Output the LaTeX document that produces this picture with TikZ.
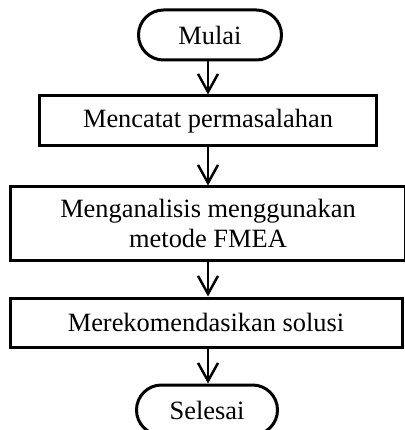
\documentclass[tikz,border=0pt]{standalone}
\usepackage{fontspec}
\setmainfont{Liberation Serif}
\usetikzlibrary{arrows.meta,shapes.misc}
\begin{document}
\begin{tikzpicture}[x=1pt,y=-1pt,
  font=\fontsize{26.4}{30}\selectfont,
  terminal/.style={draw,line width=3pt,rounded rectangle,minimum width=143pt,minimum height=50pt,inner sep=0pt},
  prosesbox/.style={draw,line width=3pt,rectangle,minimum height=50pt,inner sep=0pt,align=center},
  panah/.style={-{Straight Barb[length=18pt,width=20pt,line width=2.5pt]},line width=2.5pt}]
\useasboundingbox (0,0) rectangle (404,430);

\node [terminal] (mulai) at (210,35) {Mulai};
\node [prosesbox,minimum width=337pt] (catat) at (208,121) {Mencatat permasalahan};
\node [prosesbox,minimum width=395pt,minimum height=73pt] (analisis) at (208,223.5) {Menganalisis menggunakan\\metode FMEA};
\node [prosesbox,minimum width=392pt,minimum height=49pt] (solusi) at (206,322.5) {Merekomendasikan solusi};
\node [terminal,minimum width=141pt] (selesai) at (207,410) {Selesai};

\draw [panah] (mulai.south -| catat.north) -- (catat.north);
\draw [panah] (catat) -- (analisis);
\draw [panah] (analisis.south) -- (analisis.south |- solusi.north);
\draw [panah] (analisis.south |- solusi.south) -- (analisis.south |- selesai.north);
\end{tikzpicture}
\end{document}
